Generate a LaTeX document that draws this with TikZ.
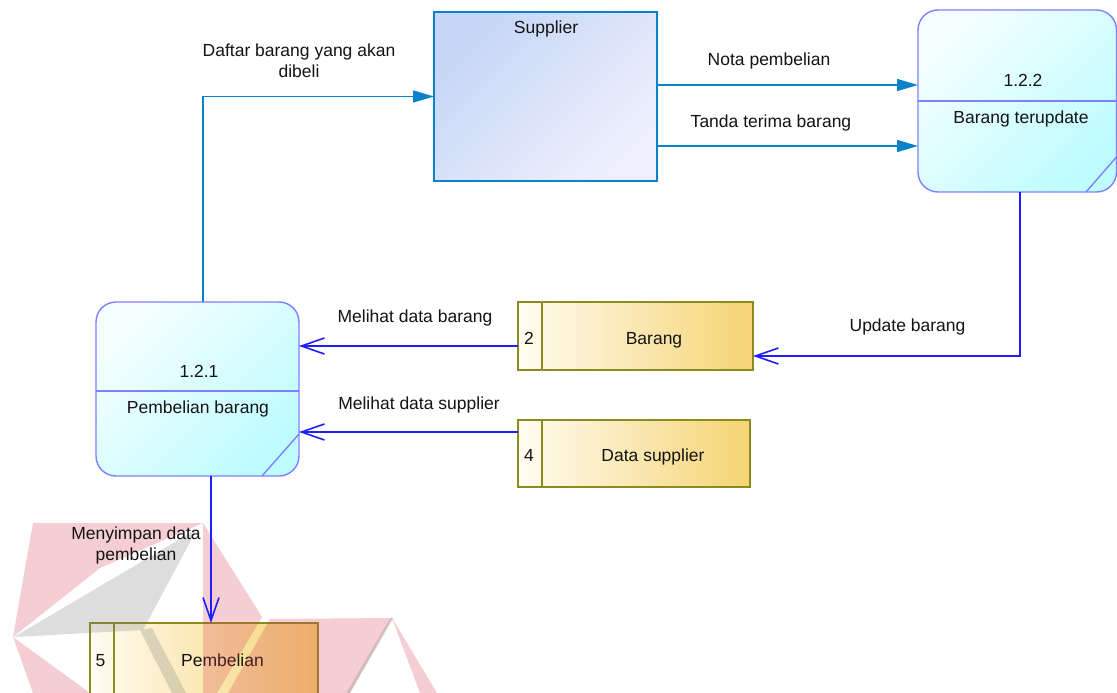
\documentclass[tikz,border=0pt]{standalone}
\usepackage{fontspec}
\setmainfont{Liberation Sans}
\usetikzlibrary{arrows.meta,calc}

\definecolor{txt}{RGB}{20,20,20}
\definecolor{extline}{RGB}{10,130,200}
\definecolor{extfillA}{RGB}{198,214,246}
\definecolor{extfillB}{RGB}{238,240,253}
\definecolor{procline}{RGB}{128,128,255}
\definecolor{procfillA}{RGB}{246,255,255}
\definecolor{procfillB}{RGB}{190,252,255}
\definecolor{storeline}{RGB}{140,140,30}
\definecolor{storefillA}{RGB}{255,252,242}
\definecolor{storefillB}{RGB}{245,212,115}
\definecolor{dataflow}{RGB}{30,30,255}
\definecolor{markred}{RGB}{215,60,80}
\definecolor{markgray}{RGB}{120,120,120}

\begin{document}
\begin{tikzpicture}[x=1pt,y=-1pt,
  every node/.style={font=\fontsize{17.5}{21}\selectfont, text=txt},
  entity/.style={draw=extline, line width=1.4pt, top color=extfillA,
    bottom color=extfillB, shading angle=45, inner sep=0pt, outer sep=0pt},
  process/.style={draw=procline, line width=1.4pt, rounded corners=20pt,
    top color=procfillA, bottom color=procfillB, shading angle=45,
    inner sep=0pt, outer sep=0pt},
  procline/.style={draw=procline, line width=1.4pt},
  store/.style={draw=storeline, line width=1.4pt, left color=storefillA,
    right color=storefillB, inner sep=0pt, outer sep=0pt},
  storeline/.style={draw=storeline, line width=1.4pt},
  lbl/.style={anchor=base, inner sep=0pt},
  flowA/.style={draw=extline, line width=1.4pt,
    -{Triangle[length=21pt,width=12pt]}},
  flowB/.style={draw=dataflow, line width=1.6pt,
    -{Straight Barb[length=23pt,width=16pt,line width=1.6pt]}},
  wmred/.style={fill=markred, fill opacity=0.25},
  wmgray/.style={fill=markgray, fill opacity=0.25}]

\clip (0,0) rectangle (1117,693);
\fill[white] (0,0) rectangle (1117,693);

% external entity
\node[entity, minimum width=223pt, minimum height=169pt] (sup) at (545.5,96.5) {};
\node[lbl] (supt) at (546,34) {Supplier};

% process 1.2.2
\node[process, minimum width=198.5pt, minimum height=182pt] (p122) at (1017.25,101) {};
\draw[procline] (p122.west) -- (p122.east);
\draw[procline] ([xshift=-30.5]p122.south east) -- ([yshift=35]p122.south east);
\node[lbl] (p122n) at (1023,87) {1.2.2};
\node[lbl] (p122t) at (1021,124) {Barang terupdate};

% process 1.2.1
\node[process, minimum width=203pt, minimum height=174pt] (p121) at (197.5,389) {};
\draw[procline] ([yshift=-2]p121.west) -- ([yshift=-2]p121.east);
\draw[procline] ([xshift=-37]p121.south east) -- ([yshift=42]p121.south east);
\node[lbl] (p121n) at (199,377) {1.2.1};
\node[lbl] (p121t) at (198,413) {Pembelian barang};

% data stores
\node[store, minimum width=235pt, minimum height=68pt] (barang) at (635.5,336) {};
\draw[storeline] ([xshift=24]barang.north west) -- ([xshift=24]barang.south west);
\node[lbl] (barangn) at (529,344) {2};
\node[lbl] (barangt) at (654,344) {Barang};

\node[store, minimum width=232pt, minimum height=67pt] (dsup) at (634,453.5) {};
\draw[storeline] ([xshift=24]dsup.north west) -- ([xshift=24]dsup.south west);
\node[lbl] (dsupn) at (529,461) {4};
\node[lbl] (dsupt) at (653,461) {Data supplier};

\node[store, minimum width=228pt, minimum height=74pt] (pemb) at (204,660) {};
\draw[storeline] ([xshift=24]pemb.north west) -- ([xshift=24]pemb.south west);
\node[lbl] (pembn) at (100.5,666) {5};
\node[lbl] (pembt) at (222.5,666) {Pembelian};

% translucent logo mark in the lower left corner
\path[wmred] (33,523) -- (203,523) -- (100,568) -- (13,637) -- cycle;
\path[wmred] (203,523) -- (262,617) -- (217,693) -- (203,693) -- cycle;
\path[wmred] (13,637) -- (90,693) -- (33,693) -- cycle;
\path[wmred] (270,619) -- (392,618) -- (350,693) -- (228,693) -- cycle;
\path[wmred] (392,618) -- (437,693) -- (420,693) -- cycle;
\path[wmgray] (14,637) -- (197,529) -- (143,630) -- cycle;
\path[wmgray] (140,630) -- (152,628) -- (186,693) -- (172,693) -- cycle;
\draw[markgray, draw opacity=0.25, line width=3pt] (392,618) -- (348,693);

% flows to and from the supplier
\coordinate (a1) at ([xshift=5.5]p121.north);
\draw[flowA] (a1) |- (sup.west);
\coordinate (a2) at ([yshift=11.5]sup.east);
\draw[flowA] (a2) -- (a2 -| p122.west);
\coordinate (a3) at ([yshift=-49.5]sup.east);
\draw[flowA] (a3) -- (a3 -| p122.west);

% data flows between processes and stores
\coordinate (b1) at ([xshift=2.75]p122.south);
\coordinate (b1e) at ([yshift=-20]barang.east);
\draw[flowB] (b1) |- (b1e);
\coordinate (b2) at ([yshift=-10]barang.west);
\draw[flowB] (b2) -- (b2 -| p121.east);
\coordinate (b3) at ([yshift=21.5]dsup.west);
\draw[flowB] (b3) -- (b3 -| p121.east);
\coordinate (b4) at ([xshift=13.5]p121.south);
\draw[flowB] (b4) -- (b4 |- pemb.north);

% flow labels
\node[align=center, inner sep=0pt] (l1) at (299,61) {Daftar barang yang akan\\dibeli};
\node[lbl] (l2) at (769,66) {Nota pembelian};
\node[lbl] (l3) at (771,127) {Tanda terima barang};
\node[lbl] (l4) at (907.5,331) {Update barang};
\node[lbl] (l5) at (415,322) {Melihat data barang};
\node[lbl] (l6) at (419,409) {Melihat data supplier};
\node[align=center, inner sep=0pt] (l7) at (136,545.5) {Menyimpan data\\pembelian};

\end{tikzpicture}
\end{document}
